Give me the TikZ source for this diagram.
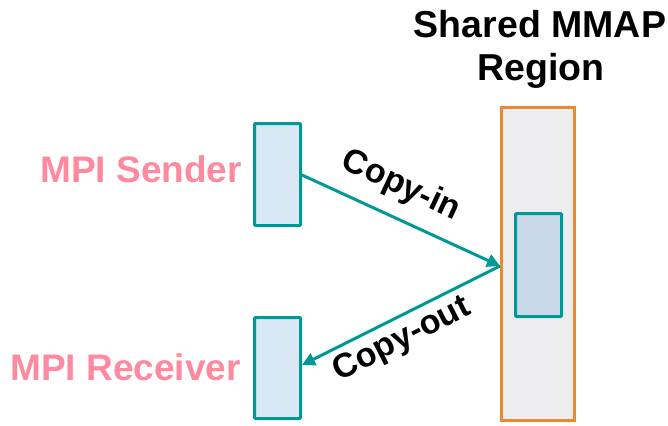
\documentclass[tikz,border=0pt]{standalone}
\usepackage{fontspec}
\setmainfont{Liberation Sans}
\usetikzlibrary{arrows.meta}
\definecolor{teal1}{RGB}{0,153,150}
\definecolor{pink1}{RGB}{255,138,160}
\definecolor{orange1}{RGB}{234,137,48}
\definecolor{boxfill}{RGB}{216,232,244}
\definecolor{innerfill}{RGB}{200,216,232}
\definecolor{regionfill}{RGB}{237,237,240}
\begin{document}
\begin{tikzpicture}[x=1pt,y=-1pt,
  procbox/.style={draw=teal1,line width=3pt,fill=boxfill,rounded corners=1pt},
  conn/.style={draw=teal1,line width=3pt,-{Triangle[length=13pt,width=13pt]}},
  plabel/.style={text=pink1,font=\fontsize{37}{40}\selectfont\bfseries,inner sep=0pt},
  blabel/.style={text=black,font=\fontsize{37.5}{40}\selectfont\bfseries,inner sep=0pt},
  clabel/.style={text=black,font=\fontsize{34}{36}\selectfont\bfseries,inner sep=0pt}]
\useasboundingbox (0,0) rectangle (668,425);
\node[procbox,minimum width=46pt,minimum height=102pt,inner sep=0pt] (send) at (277.5,174.5) {};
\node[procbox,minimum width=46pt,minimum height=101pt,inner sep=0pt] (recv) at (277.5,368) {};
\node[draw=orange1,line width=3pt,fill=regionfill,minimum width=73pt,minimum height=313pt,inner sep=0pt] (region) at (538,264) {};
\node[draw=teal1,line width=3pt,fill=innerfill,rounded corners=1pt,minimum width=46pt,minimum height=103pt,inner sep=0pt] (inner) at (538.5,265) {};
\node[plabel,anchor=base east] (sl) at (242,182) {MPI Sender};
\node[plabel,anchor=base east] (rl) at (241,380) {MPI Receiver};
\node[blabel,anchor=base] (t1) at (540,38) {Shared MMAP};
\node[blabel,anchor=base] (t2) at (541,81) {Region};
\coordinate (hit) at (region.west |- 0,266);
\draw[conn] (send.east |- 0,175) -- (hit);
\draw[conn] (hit) -- (recv.east |- 0,365);
\node[clabel,rotate=-25] (ci) at (401,186) {Copy-in};
\node[clabel,rotate=27] (co) at (402,340) {Copy-out};
\end{tikzpicture}
\end{document}
